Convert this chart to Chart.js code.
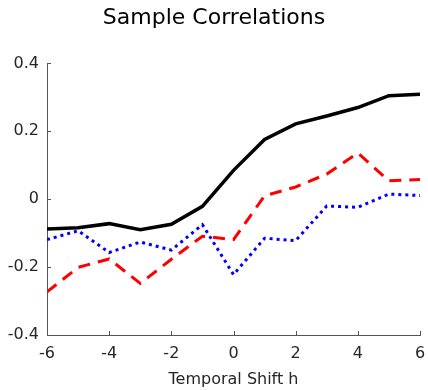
<!DOCTYPE html>
<html>
<head>
<meta charset="utf-8">
<script src="https://cdn.jsdelivr.net/npm/chart.js@4/dist/chart.umd.min.js"></script>
<style>
  html, body { margin: 0; padding: 0; background: #fff; }
  #wrap { width: 428px; height: 390px; }
</style>
</head>
<body>
<div id="wrap"><canvas id="myChart" width="428" height="390"></canvas></div>
<script>
// temporal shifts h
var shifts = [-6, -5, -4, -3, -2, -1, 0, 1, 2, 3, 4, 5, 6];
// sample correlations
var blackVals = [-0.088, -0.084, -0.072, -0.090, -0.074, -0.021, 0.085, 0.176, 0.222, 0.245, 0.270, 0.305, 0.309];
var redVals   = [-0.273, -0.201, -0.176, -0.248, -0.177, -0.109, -0.119, 0.010, 0.036, 0.074, 0.136, 0.054, 0.058];
var blueVals  = [-0.119, -0.093, -0.157, -0.126, -0.150, -0.075, -0.222, -0.115, -0.122, -0.020, -0.024, 0.015, 0.011];
var xTicks = [-6, -4, -2, 0, 2, 4, 6];
var yTicks = [-0.4, -0.2, 0, 0.2, 0.4];

function toPoints(vals) {
  return vals.map(function(v, i) { return { x: shifts[i], y: v }; });
}

var FONT = "'DejaVu Sans', sans-serif";
var TEXT = '#262626';

// matlab style ticks pointing into the plot
var innerTicks = {
  id: 'innerTicks',
  afterDraw: function(chart) {
    var c = chart.ctx, a = chart.chartArea;
    var xs = chart.scales.x, ys = chart.scales.y;
    c.save();
    c.strokeStyle = '#555';
    c.lineWidth = 1;
    c.beginPath();
    xTicks.forEach(function(t) {
      var px = Math.round(xs.getPixelForValue(t)) + 0.5;
      c.moveTo(px, a.bottom);
      c.lineTo(px, a.bottom - 4);
    });
    yTicks.forEach(function(t) {
      var py = Math.round(ys.getPixelForValue(t)) + 0.5;
      c.moveTo(a.left, py);
      c.lineTo(a.left + 4, py);
    });
    c.stroke();
    c.restore();
  }
};

var ctx = document.getElementById('myChart').getContext('2d');
var myChart = new Chart(ctx, {
  type: 'line',
  data: {
    datasets: [{
      data: toPoints(blackVals),
      borderColor: '#000000',
      borderWidth: 3.5,
      pointRadius: 0,
      tension: 0
    }, {
      data: toPoints(redVals),
      borderColor: '#ff0000',
      borderWidth: 3,
      borderDash: [12, 8],
      pointRadius: 0,
      tension: 0
    }, {
      data: toPoints(blueVals),
      borderColor: '#0000ff',
      borderWidth: 3,
      borderDash: [3, 4],
      pointRadius: 0,
      tension: 0
    }]
  },
  options: {
    responsive: false,
    animation: false,
    layout: { padding: 0 },
    plugins: {
      legend: false,
      tooltip: false,
      title: {
        display: true,
        text: 'Sample Correlations',
        color: '#000',
        font: { family: FONT, size: 22, weight: 'normal' },
        padding: { top: 5, bottom: 32 }
      }
    },
    scales: {
      x: {
        type: 'linear',
        min: -6,
        max: 6,
        afterBuildTicks: function(scale) {
          scale.ticks = xTicks.map(function(v) { return { value: v }; });
        },
        afterFit: function(scale) {
          scale.height = 55;
          scale.paddingLeft = 0;
          scale.paddingRight = 8;
        },
        grid: { drawOnChartArea: false, drawTicks: false },
        border: { color: '#555', width: 1 },
        ticks: {
          color: TEXT,
          padding: 9,
          font: { family: FONT, size: 16 },
          callback: function(v) { return String(v); }
        },
        title: {
          display: true,
          text: 'Temporal Shift h',
          color: TEXT,
          font: { family: FONT, size: 16 },
          padding: { top: 4, bottom: 1 }
        }
      },
      y: {
        min: -0.4,
        max: 0.4,
        afterBuildTicks: function(scale) {
          scale.ticks = yTicks.map(function(v) { return { value: v }; });
        },
        afterFit: function(scale) {
          scale.width = 47;
          scale.paddingTop = 0;
          scale.paddingBottom = 0;
        },
        grid: { drawOnChartArea: false, drawTicks: false },
        border: { color: '#555', width: 1 },
        ticks: {
          color: TEXT,
          padding: 8,
          font: { family: FONT, size: 16 },
          callback: function(v) { return String(Math.round(v * 10) / 10); }
        }
      }
    }
  },
  plugins: [innerTicks]
});
</script>
</body>
</html>
